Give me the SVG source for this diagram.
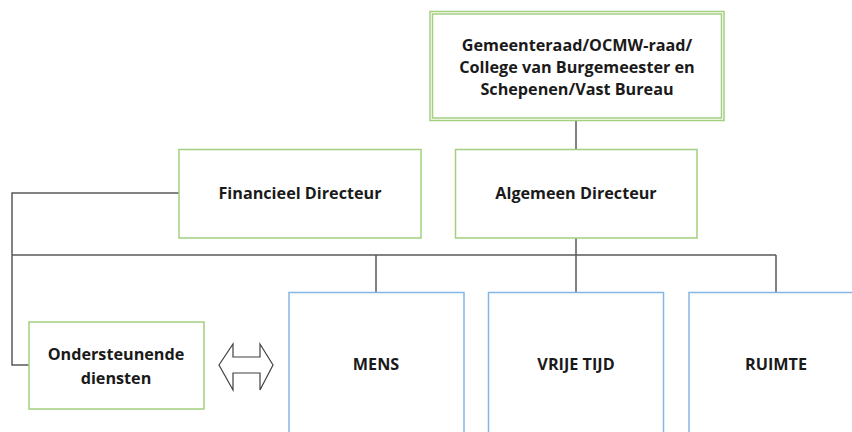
<svg xmlns="http://www.w3.org/2000/svg" width="852" height="432" viewBox="0 0 852 432">
<style>
.g{fill:#fff;stroke:#A3CF7F;stroke-width:1.5}
.b{fill:#fff;stroke:#85B6E6;stroke-width:1.5}
.c{fill:none;stroke:#595959;stroke-width:1.5}
text{font-family:"Open Sans","Liberation Sans",Arial,sans-serif;font-weight:bold;font-size:16.2px;fill:#1a1a1a;text-anchor:middle}
</style>
<rect width="852" height="432" fill="#fff"/>
<g id="connectors">
<path class="c" d="M576 120V149M576 238V292M12 255H776M376 255V292M776 255V292M179 193H12V365H29"/>
<polygon points="219,365 233,344 233,357 260,357 260,344 273,365 260,390 260,373 233,373 233,390" fill="#fff" stroke="#404040" stroke-width="1.2"/>
</g>
<g id="raad">
<rect class="g" x="430" y="11.5" width="294" height="109"/>
<rect class="g" x="432.5" y="14" width="289" height="104"/>
<text x="577" y="51">Gemeenteraad/OCMW-raad/</text>
<text x="577" y="73">College van Burgemeester en</text>
<text x="577" y="95">Schepenen/Vast Bureau</text>
</g>
<g id="financieel">
<rect class="g" x="179" y="149.5" width="242" height="88.5"/>
<text x="300" y="199">Financieel Directeur</text>
</g>
<g id="algemeen">
<rect class="g" x="455.5" y="149.5" width="241.5" height="88.5"/>
<text x="576" y="199">Algemeen Directeur</text>
</g>
<g id="ondersteunend">
<rect class="g" x="29" y="322" width="175" height="87"/>
<text x="116" y="360">Ondersteunende</text>
<text x="116" y="384">diensten</text>
</g>
<g id="mens">
<rect class="b" x="289" y="292.5" width="175" height="150"/>
<text x="376" y="370">MENS</text>
</g>
<g id="vrijetijd">
<rect class="b" x="488.5" y="292.5" width="175" height="150"/>
<text x="576" y="370">VRIJE TIJD</text>
</g>
<g id="ruimte">
<rect class="b" x="689" y="292.5" width="175" height="150"/>
<text x="776" y="370">RUIMTE</text>
</g>
</svg>
